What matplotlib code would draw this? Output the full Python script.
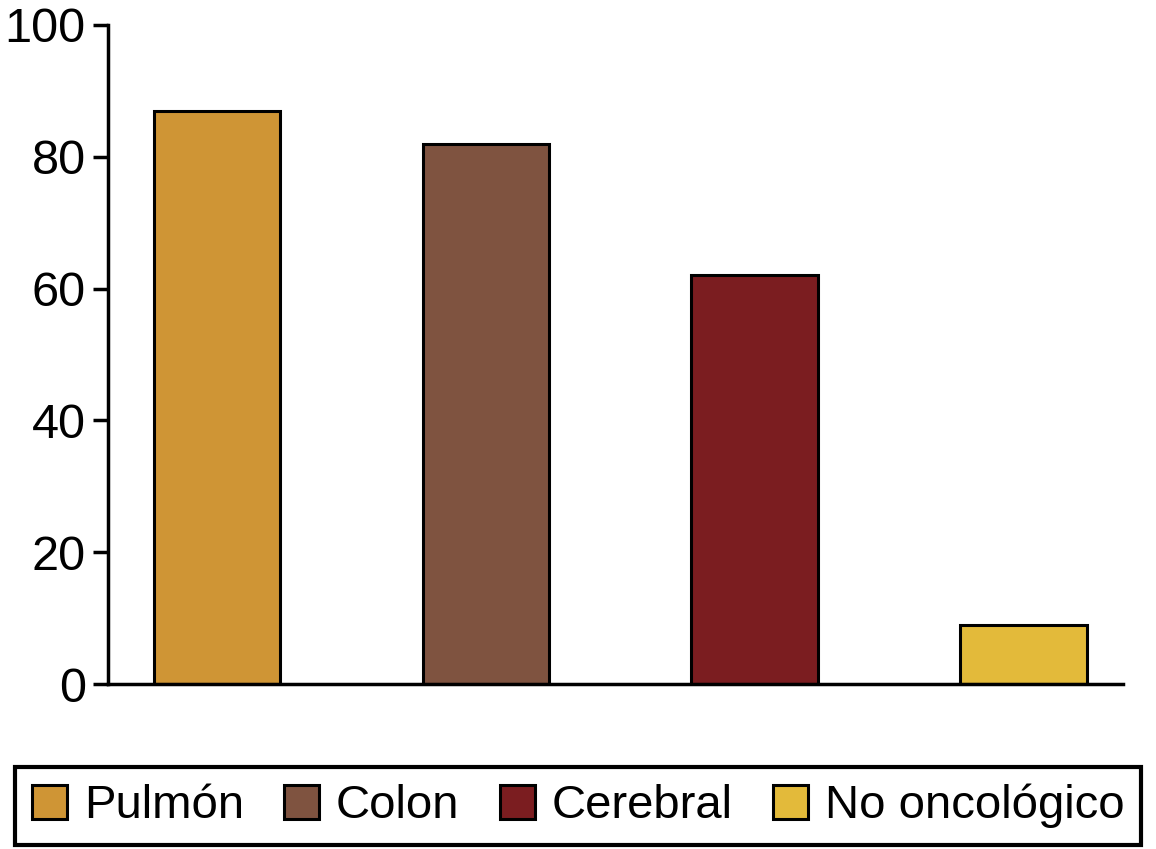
import numpy as np
import matplotlib.pyplot as plt

plt.rcParams['font.family'] = ['Liberation Sans', 'DejaVu Sans']

# -----------------------------
# Data
# -----------------------------
categories = ["Pulmón", "Colon", "Cerebral", "No oncológico"]
values = [87, 82, 62, 9]
colors = ["#CF9535", "#7F5340", "#7B1D20", "#E3BA3A"]
yticks = [0, 20, 40, 60, 80, 100]

# -----------------------------
# Figure
# -----------------------------
fig = plt.figure(figsize=(11.56, 8.49), dpi=100)
ax = fig.add_axes([0.0934, 0.1943, 0.8781, 0.7763])

x = np.arange(len(categories))
bars = ax.bar(x, values, width=0.47, color=colors, edgecolor="black",
              linewidth=2.2, label=categories)

ax.set_xlim(-0.405, 3.37)
ax.set_ylim(0, 100)
ax.set_yticks(yticks)
ax.set_xticks([])

for s in ["top", "right"]:
    ax.spines[s].set_visible(False)
ax.spines["left"].set_linewidth(2.5)
ax.spines["bottom"].set_linewidth(2.5)
ax.tick_params(axis="y", length=11, width=2.5, labelsize=35, pad=5)

leg = fig.legend(bars, categories, loc="center", ncol=4,
                 bbox_to_anchor=(0.5, 0.0506), fontsize=34,
                 frameon=True, fancybox=False, edgecolor="black", framealpha=1,
                 handlelength=0.75, handleheight=0.75, handletextpad=0.35,
                 columnspacing=0.85, borderpad=0.35, borderaxespad=0)
leg.get_frame().set_linewidth(3)

plt.savefig("out.png", dpi=100)
